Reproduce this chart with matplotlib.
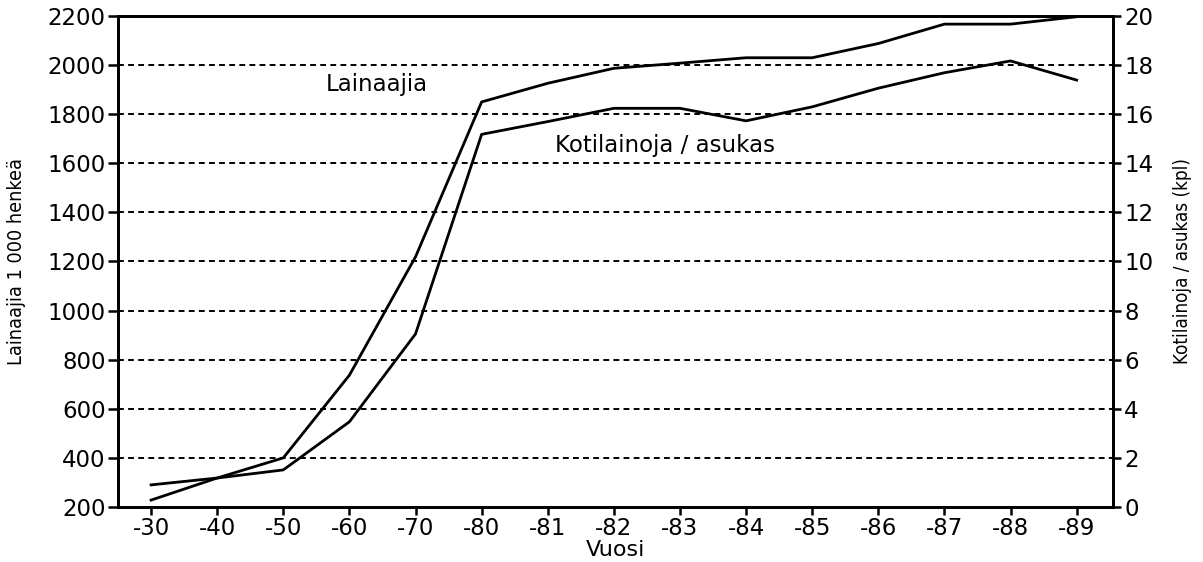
import matplotlib
matplotlib.use("Agg")
import matplotlib.pyplot as plt

# Data
years = ["-30", "-40", "-50", "-60", "-70", "-80", "-81", "-82", "-83",
         "-84", "-85", "-86", "-87", "-88", "-89"]
lainaajia = [228, 318, 400, 737, 1219, 1850, 1926, 1987, 2008, 2030,
             2030, 2088, 2167, 2167, 2197]          # per 1 000 people (left axis)
kotilainoja = [0.9, 1.18, 1.51, 3.47, 7.05, 15.18, 15.7, 16.24, 16.24,
               15.73, 16.3, 17.06, 17.69, 18.17, 17.39]  # per resident (right axis)

left_ticks = list(range(200, 2201, 200))
right_ticks = list(range(0, 21, 2))

plt.rcParams['font.family'] = ['DejaVu Sans']

fig = plt.figure(figsize=(12.03, 5.62), dpi=100)
ax = fig.add_axes([0.0981, 0.0979, 0.8271, 0.8736])
ax2 = ax.twinx()

x = range(len(years))
ax.plot(x, lainaajia, color='black', lw=2.0, zorder=3)
ax2.plot(x, kotilainoja, color='black', lw=2.0, zorder=3)

ax.set_xlim(-0.5, 14.55)
ax.set_ylim(200, 2200)
ax2.set_ylim(0, 20)
ax.set_xticks(list(x))
ax.set_xticklabels(years)
ax.set_yticks(left_ticks)
ax2.set_yticks(right_ticks)

# dashed gridlines
for v in left_ticks[1:-1]:
    ax.axhline(v, color='black', lw=1.4, ls=(0, (3, 2.2)), zorder=1)

for a in (ax, ax2):
    for s in a.spines.values():
        s.set_linewidth(2)
ax.tick_params(axis='y', labelsize=16.5, width=1.8, length=7, direction='out', pad=2)
ax.tick_params(axis='x', labelsize=16.5, width=1.8, length=6, direction='out', pad=1)
ax2.tick_params(axis='y', labelsize=16.5, width=1.8, length=6, direction='out', pad=2)

ax.set_xlabel("Vuosi", fontsize=16, labelpad=0)
ax.set_ylabel("Lainaajia 1 000 henkeä", fontsize=14.2, stretch='condensed', labelpad=15)
ax2.set_ylabel("Kotilainoja / asukas (kpl)", fontsize=13.5, stretch='condensed', labelpad=14)

ax.text(3.42, 1919, "Lainaajia", fontsize=16.5, ha='center', va='center')
ax.text(7.77, 1674, "Kotilainoja / asukas", fontsize=16.5, ha='center', va='center')

fig.savefig("out.png", dpi=100)
